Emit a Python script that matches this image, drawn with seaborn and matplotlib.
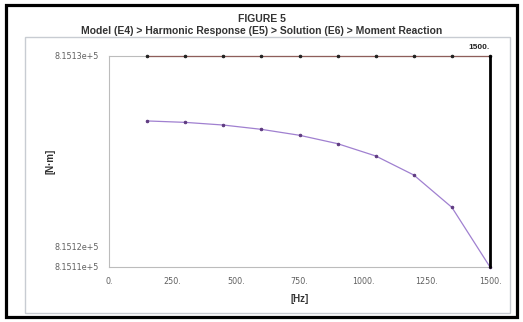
import matplotlib
matplotlib.use("Agg")
import matplotlib.pyplot as plt
import matplotlib.transforms as mtransforms
from matplotlib.patches import Rectangle
import numpy as np
import pandas as pd
import seaborn as sns

# ---- data ----
freq = [150, 300, 450, 600, 750, 900, 1050, 1200, 1350, 1500]
upper_series = [815125.2] * 10
lower_series = [815122.03, 815121.96, 815121.83, 815121.62, 815121.33,
                815120.92, 815120.32, 815119.39, 815117.81, 815114.9]
ytick_values = [815114.9, 815115.9, 815125.2]
ytick_labels = ["8.1511e+5", "8.1512e+5", "8.1513e+5"]
xtick_values = [0, 250, 500, 750, 1000, 1250, 1500]
xtick_labels = ["0.", "250.", "500.", "750.", "1000.", "1250.", "1500."]
cursor_freq = 1500
cursor_label = "1500."

title1 = "FIGURE 5"
title2 = "Model (E4) > Harmonic Response (E5) > Solution (E6) > Moment Reaction"
xlabel = "[Hz]"
ylabel = "[N·m]"

sns.set_style("white")
plt.rcParams["font.family"] = ["Liberation Sans", "DejaVu Sans"]

W, H = 523, 322
fig = plt.figure(figsize=(W / 100, H / 100), dpi=100)

# axes placement in pixels
L, R, T, B = 109, 490, 56, 267
ax = fig.add_axes([L / W, 1 - B / H, (R - L) / W, (B - T) / H])

df = pd.DataFrame({"Frequency": freq, "Upper": upper_series, "Lower": lower_series})

brown = "#8e5e5a"
purple = "#a080d0"
sns.lineplot(data=df, x="Frequency", y="Upper", ax=ax, color=brown, lw=0.9,
             marker="o", markersize=1.8, markerfacecolor="#202020",
             markeredgecolor="#202020", clip_on=False, zorder=3)
sns.lineplot(data=df, x="Frequency", y="Lower", ax=ax, color=purple, lw=0.9,
             marker="o", markersize=1.8, markerfacecolor="#5e3a80",
             markeredgecolor="#5e3a80", clip_on=False, zorder=3)

ax.set_xlim(0, 1500)
ax.set_ylim(ytick_values[0], ytick_values[-1])
ax.set_xticks(xtick_values)
ax.set_xticklabels(xtick_labels)
ax.set_yticks(ytick_values)
ax.set_yticklabels(ytick_labels)

# cursor line
ax.axvline(cursor_freq, color="black", lw=2.0, zorder=4, clip_on=False)
trans = mtransforms.blended_transform_factory(ax.transData, ax.transAxes)
ax.text(cursor_freq, 1.025, cursor_label, transform=trans, ha="right", va="bottom",
        fontsize=6, fontweight="bold", color="#222222")

spine_c = "#bcbcbc"
for s in ["left", "bottom", "top"]:
    ax.spines[s].set_color(spine_c)
    ax.spines[s].set_linewidth(0.8)
ax.spines["right"].set_visible(False)

ax.tick_params(axis="both", direction="out", length=4, width=0.7, color=spine_c,
               labelsize=5.8, labelcolor="#606060", pad=3)
for lab in ax.get_xticklabels() + ax.get_yticklabels():
    lab.set_family(["DejaVu Sans"])
ax.set_xlabel(xlabel, fontsize=7, fontweight="bold", color="#333333", labelpad=6)
ax.set_ylabel(ylabel, fontsize=7, fontweight="bold", color="#333333")
ax.yaxis.set_label_coords((55 - L) / (R - L), 0.5)
ax.grid(False)

# titles
fig.text(262 / W, 1 - 19 / H, title1, ha="center", va="center",
         fontsize=7.5, fontweight="bold", color="#333333")
fig.text(262 / W, 1 - 31 / H, title2, ha="center", va="center",
         fontsize=7.5, fontweight="bold", color="#333333")

# frames
fig.patches.append(Rectangle((25 / W, 1 - 313 / H), (510 - 25) / W, (313 - 37) / H,
                             transform=fig.transFigure, fill=False,
                             edgecolor="#c8ccd2", lw=1.0, zorder=0))
fig.patches.append(Rectangle((5.5 / W, 1 - 316.5 / H), (516.5 - 5.5) / W, (316.5 - 5) / H,
                             transform=fig.transFigure, fill=False,
                             edgecolor="black", lw=2.3, zorder=0))

fig.savefig("out.png", dpi=100)
